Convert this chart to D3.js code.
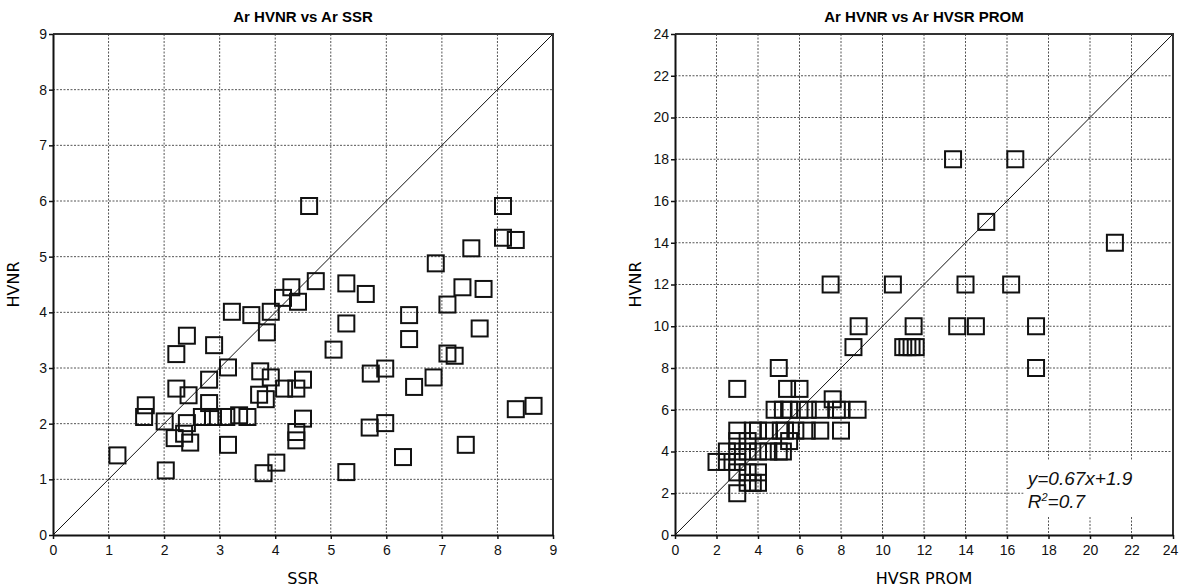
<!DOCTYPE html>
<html>
<head>
<meta charset="utf-8">
<script src="https://cdn.jsdelivr.net/npm/d3@7"></script>
<style>
body { margin: 0; background: #fff; }
svg { display: block; }
</style>
</head>
<body>
<div id="chart"></div>
<script>
// left panel: HVNR vs SSR
var ssrX = [1.16,1.67,1.64,2.01,2.03,2.22,2.41,2.22,2.44,2.19,2.36,2.41,2.47,2.81,2.81,2.68,2.88,2.90,3.12,3.15,
	3.15,3.22,3.35,3.50,3.57,3.73,3.71,3.85,3.83,3.92,3.92,3.79,4.02,4.14,4.16,4.29,4.41,4.38,4.50,4.50,
	4.38,4.38,4.61,4.73,5.05,5.28,5.28,5.28,5.63,5.72,5.70,5.98,5.98,6.30,6.41,6.41,6.50,6.85,6.89,7.10,
	7.10,7.23,7.37,7.43,7.53,7.68,7.75,8.10,8.10,8.33,8.33,8.65];
var ssrY = [1.43,2.33,2.12,2.04,1.16,3.25,3.58,2.63,2.51,1.74,1.82,2.01,1.66,2.79,2.37,2.12,2.12,3.41,2.12,3.01,
	1.62,4.01,2.15,2.12,3.95,2.94,2.52,3.64,2.44,2.83,4.01,1.11,1.30,4.26,2.63,4.45,4.19,2.63,2.79,2.09,
	1.85,1.70,5.91,4.56,3.33,4.52,3.80,1.13,4.33,2.90,1.93,2.99,2.01,1.40,3.95,3.52,2.66,2.83,4.88,4.14,
	3.26,3.22,4.45,1.62,5.15,3.71,4.42,5.91,5.34,5.30,2.26,2.32];

// right panel: HVNR vs HVSR PROM
var promX = [2.0,2.5,2.5,3.0,3.0,3.0,3.0,3.0,3.0,3.0,3.5,3.5,3.5,3.5,3.75,3.75,4.0,4.0,4.0,4.0,
	4.5,4.5,5.0,5.1,5.0,5.2,5.5,5.3,5.4,5.8,4.8,5.2,5.5,6.0,6.0,6.35,6.4,7.0,7.0,7.6,
	7.8,8.0,8.0,8.8,8.6,8.85,7.5,10.5,11.0,11.2,11.4,11.5,11.6,13.4,13.6,14.0,14.5,15.0,16.2,16.4,
	17.4,17.4,21.2];
var promY = [3.5,3.5,4.0,2.0,3.0,3.5,4.0,4.5,5.0,7.0,2.5,3.0,4.0,4.5,5.0,2.5,2.5,3.0,4.0,5.0,
	4.0,5.0,4.0,5.0,8.0,4.0,4.5,5.0,7.0,5.0,6.0,6.0,6.0,6.0,7.0,5.0,6.0,5.0,6.0,6.5,
	6.0,5.0,6.0,6.0,9.0,10.0,12.0,12.0,9.0,9.0,9.0,10.0,9.0,18.0,10.0,12.0,10.0,15.0,12.0,18.0,
	10.0,8.0,14.0];

var ssrTicks = [0,1,2,3,4,5,6,7,8,9];
var promTicks = [0,2,4,6,8,10,12,14,16,18,20,22,24];
var fitEquation = "y=0.67x+1.9";
var fitR2 = "0.7";

var svg = d3.select("#chart").append("svg")
	.attr("width", 1181)
	.attr("height", 588);

function drawScatter(cfg){
	var g = svg.append("g");
	var x = d3.scaleLinear().domain(cfg.domain).range([cfg.left, cfg.right]);
	var y = d3.scaleLinear().domain(cfg.domain).range([cfg.bottom, cfg.top]);

	// dotted grid
	var inner = cfg.ticks.slice(1, -1);
	g.append("g").selectAll("line.vg")
		.data(inner).enter().append("line")
		.attr("x1", function(d){ return x(d); })
		.attr("x2", function(d){ return x(d); })
		.attr("y1", cfg.top).attr("y2", cfg.bottom)
		.attr("stroke", "#555").attr("stroke-width", 1)
		.attr("stroke-dasharray", "2,1.5");
	g.append("g").selectAll("line.hg")
		.data(inner).enter().append("line")
		.attr("y1", function(d){ return y(d); })
		.attr("y2", function(d){ return y(d); })
		.attr("x1", cfg.left).attr("x2", cfg.right)
		.attr("stroke", "#555").attr("stroke-width", 1)
		.attr("stroke-dasharray", "2,1.5");

	// white patch behind the regression text
	if(cfg.fit){
		g.append("rect")
			.attr("x", x(16.8)).attr("y", y(3.6))
			.attr("width", cfg.right - x(16.8) - 2)
			.attr("height", y(0.9) - y(3.6))
			.attr("fill", "#fff");
	}

	// 1:1 line
	g.append("line")
		.attr("x1", x(cfg.domain[0])).attr("y1", y(cfg.domain[0]))
		.attr("x2", x(cfg.domain[1])).attr("y2", y(cfg.domain[1]))
		.attr("stroke", "#111").attr("stroke-width", 1);

	// frame top / right
	g.append("path")
		.attr("d", "M" + cfg.left + "," + cfg.top + "H" + cfg.right + "V" + cfg.bottom)
		.attr("fill", "none").attr("stroke", "#333").attr("stroke-width", 2);

	// squares
	var s = 16;
	g.append("g").selectAll("rect")
		.data(cfg.xs.map(function(d, i){ return [d, cfg.ys[i]]; }))
		.enter().append("rect")
		.attr("x", function(d){ return x(d[0]) - s/2; })
		.attr("y", function(d){ return y(d[1]) - s/2; })
		.attr("width", s).attr("height", s)
		.attr("fill", "none")
		.attr("stroke", "#111")
		.attr("stroke-width", 2);

	var xAxis = g.append("g")
		.attr("transform", "translate(0," + cfg.bottom + ")")
		.call(d3.axisBottom(x).tickValues(cfg.ticks).tickSize(4).tickSizeOuter(0));
	var yAxis = g.append("g")
		.attr("transform", "translate(" + cfg.left + ",0)")
		.call(d3.axisLeft(y).tickValues(cfg.ticks).tickSize(4).tickSizeOuter(0));
	[xAxis, yAxis].forEach(function(a){
		a.select(".domain").attr("stroke", "#111").attr("stroke-width", 2);
		a.selectAll(".tick line").attr("stroke", "#111").attr("stroke-width", 1.5);
		a.selectAll("text")
			.attr("fill", "#111")
			.style("font-family", "Liberation Sans, Arial, sans-serif")
			.style("font-size", "14px");
	});
	xAxis.selectAll("text").attr("dy", "0.9em");
	yAxis.selectAll("text").attr("x", -6);
	if(cfg.right > 1170){
		xAxis.selectAll(".tick:last-of-type text").attr("x", -3);
	}

	g.append("text")
		.attr("x", (cfg.left + cfg.right)/2)
		.attr("y", 22)
		.attr("text-anchor", "middle")
		.style("font-family", "Liberation Sans, Arial, sans-serif")
		.style("font-weight", "bold")
		.style("font-size", "15px")
		.text(cfg.title);

	g.append("text")
		.attr("x", (cfg.left + cfg.right)/2)
		.attr("y", 584)
		.attr("text-anchor", "middle")
		.style("font-family", "DejaVu Sans, Verdana, sans-serif")
		.style("font-size", "16px")
		.text(cfg.xLabel);

	g.append("text")
		.attr("transform", "translate(" + (cfg.left - 34) + "," + ((cfg.top + cfg.bottom)/2) + ") rotate(-90)")
		.attr("text-anchor", "middle")
		.style("font-family", "DejaVu Sans, Verdana, sans-serif")
		.style("font-size", "16px")
		.text(cfg.yLabel);

	if(cfg.fit){
		var note = g.append("g")
			.style("font-family", "Liberation Sans, Arial, sans-serif")
			.style("font-style", "italic")
			.style("font-size", "19px")
			.attr("fill", "#111");
		note.append("text")
			.attr("x", x(17.0)).attr("y", y(2.4))
			.text(cfg.fit[0]);
		var r = note.append("text")
			.attr("x", x(17.0)).attr("y", y(2.4) + 23);
		r.append("tspan").text("R");
		r.append("tspan").attr("dy", -7).style("font-size", "11px").text("2");
		r.append("tspan").attr("dy", 7).text("=" + cfg.fit[1]);
	}
}

drawScatter({
	left: 53, right: 553, top: 34, bottom: 535,
	domain: [0, 9], ticks: ssrTicks,
	xs: ssrX, ys: ssrY,
	title: "Ar HVNR vs Ar SSR", xLabel: "SSR", yLabel: "HVNR"
});

drawScatter({
	left: 675, right: 1173, top: 34, bottom: 535,
	domain: [0, 24], ticks: promTicks,
	xs: promX, ys: promY,
	title: "Ar HVNR vs Ar HVSR PROM", xLabel: "HVSR PROM", yLabel: "HVNR",
	fit: [fitEquation, fitR2]
});
</script>
</body>
</html>
